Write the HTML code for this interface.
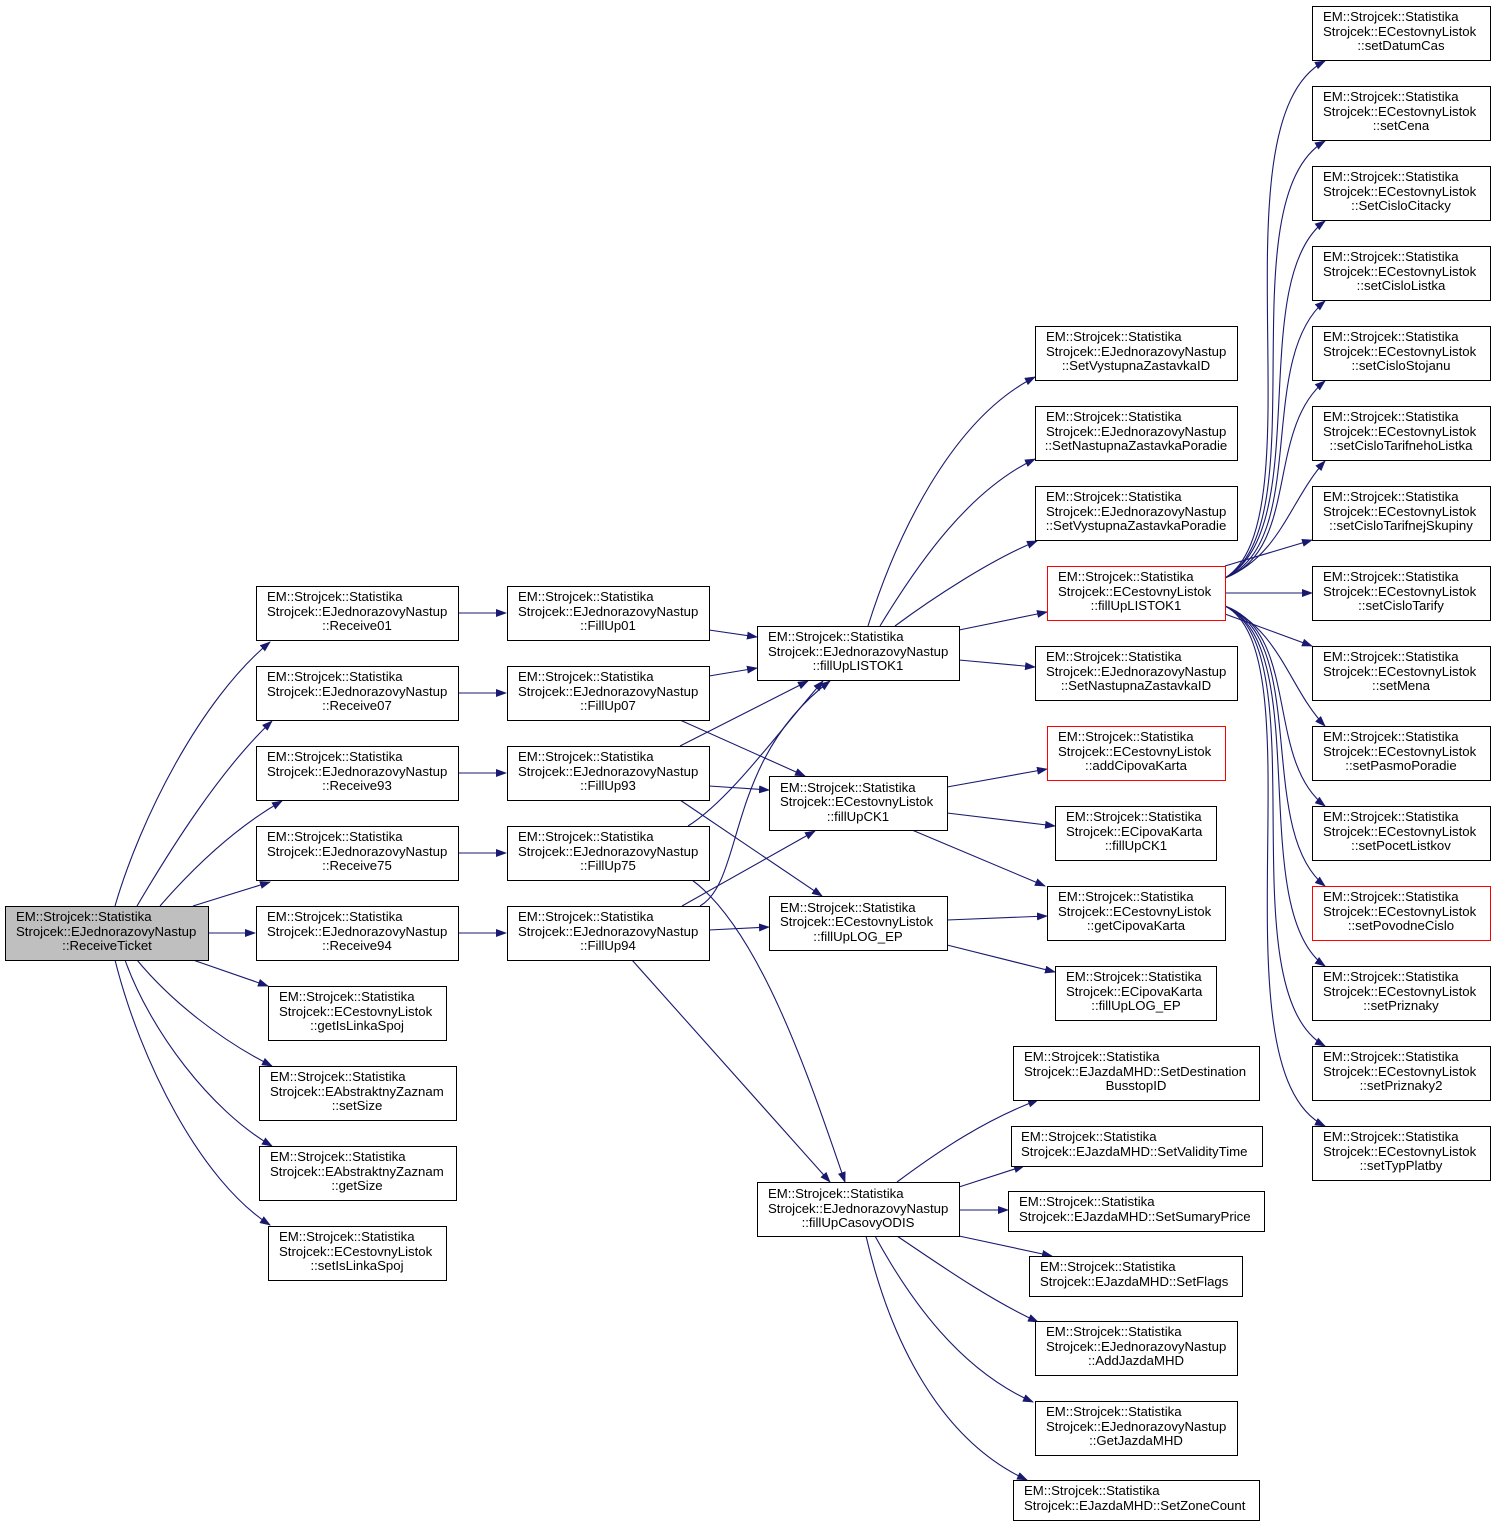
<!DOCTYPE html>
<html><head><meta charset="utf-8"><style>
html,body{margin:0;padding:0;background:#fff;}
svg text{font-family:"Liberation Sans",sans-serif;font-size:13.2px;fill:#000;}
.n{fill:#fff;stroke:#000;stroke-width:1;}
.r{fill:#fff;stroke:#ff0000;stroke-width:1;}
.g{fill:#bfbfbf;stroke:#000;stroke-width:1;}
.e{fill:none;stroke:#191970;stroke-width:1.1;}
</style></head><body>
<svg width="1496" height="1526" viewBox="0 0 1496 1526" xmlns="http://www.w3.org/2000/svg">
<defs><marker id="a" markerWidth="11" markerHeight="8" refX="10" refY="4" orient="auto" markerUnits="userSpaceOnUse"><path d="M0,0 L11,4 L0,8 z" fill="#191970"/></marker></defs>
<g class="edges">
<path class="e" marker-end="url(#a)" d="M115,906 C140,820 200,700 270,642"/>
<path class="e" marker-end="url(#a)" d="M137,906 C170,850 220,770 272,721"/>
<path class="e" marker-end="url(#a)" d="M160,906 C200,860 240,825 282,801"/>
<path class="e" marker-end="url(#a)" d="M193,906 L270,882"/>
<path class="e" marker-end="url(#a)" d="M208,933 L255,933"/>
<path class="e" marker-end="url(#a)" d="M193,960 L268,986"/>
<path class="e" marker-end="url(#a)" d="M137,960 C170,1000 220,1040 272,1066"/>
<path class="e" marker-end="url(#a)" d="M125,960 C150,1030 210,1110 272,1146"/>
<path class="e" marker-end="url(#a)" d="M115,960 C140,1060 200,1180 270,1225"/>
<path class="e" marker-end="url(#a)" d="M458,613 L506,613"/>
<path class="e" marker-end="url(#a)" d="M458,693 L506,693"/>
<path class="e" marker-end="url(#a)" d="M458,773 L506,773"/>
<path class="e" marker-end="url(#a)" d="M458,853 L506,853"/>
<path class="e" marker-end="url(#a)" d="M458,933 L506,933"/>
<path class="e" marker-end="url(#a)" d="M709,630 L757,637"/>
<path class="e" marker-end="url(#a)" d="M709,676 L757,668"/>
<path class="e" marker-end="url(#a)" d="M680,720 L805,776"/>
<path class="e" marker-end="url(#a)" d="M680,746 L808,681"/>
<path class="e" marker-end="url(#a)" d="M709,786 L769,790"/>
<path class="e" marker-end="url(#a)" d="M680,800 L822,896"/>
<path class="e" marker-end="url(#a)" d="M688,826 C730,800 780,730 823,681"/>
<path class="e" marker-end="url(#a)" d="M692,880 C760,930 810,1080 845,1182"/>
<path class="e" marker-end="url(#a)" d="M700,906 C745,880 725,760 830,681"/>
<path class="e" marker-end="url(#a)" d="M682,906 L815,831"/>
<path class="e" marker-end="url(#a)" d="M709,930 L769,927"/>
<path class="e" marker-end="url(#a)" d="M632,960 L830,1182"/>
<path class="e" marker-end="url(#a)" d="M868,626 C895,540 950,420 1035,377"/>
<path class="e" marker-end="url(#a)" d="M880,626 C920,560 970,490 1035,459"/>
<path class="e" marker-end="url(#a)" d="M895,626 C930,600 990,560 1037,541"/>
<path class="e" marker-end="url(#a)" d="M959,630 L1047,612"/>
<path class="e" marker-end="url(#a)" d="M959,660 L1035,667"/>
<path class="e" marker-end="url(#a)" d="M947,787 L1047,769"/>
<path class="e" marker-end="url(#a)" d="M947,813 L1055,826"/>
<path class="e" marker-end="url(#a)" d="M912,830 L1045,886"/>
<path class="e" marker-end="url(#a)" d="M947,920 L1047,916"/>
<path class="e" marker-end="url(#a)" d="M947,945 L1055,972"/>
<path class="e" marker-end="url(#a)" d="M897,1182 C940,1150 985,1120 1038,1100"/>
<path class="e" marker-end="url(#a)" d="M959,1187 L1024,1166"/>
<path class="e" marker-end="url(#a)" d="M959,1210 L1008,1210"/>
<path class="e" marker-end="url(#a)" d="M959,1236 L1052,1256"/>
<path class="e" marker-end="url(#a)" d="M897,1236 C940,1265 990,1300 1038,1322"/>
<path class="e" marker-end="url(#a)" d="M875,1236 C910,1300 960,1370 1033,1402"/>
<path class="e" marker-end="url(#a)" d="M866,1236 C890,1340 940,1440 1027,1480"/>
<path class="e" marker-end="url(#a)" d="M1225,578 C1320,520 1210,120 1325,61"/>
<path class="e" marker-end="url(#a)" d="M1225,578 C1320,525 1225,200 1325,141"/>
<path class="e" marker-end="url(#a)" d="M1225,578 C1315,530 1245,280 1325,221"/>
<path class="e" marker-end="url(#a)" d="M1225,578 C1310,540 1255,360 1325,301"/>
<path class="e" marker-end="url(#a)" d="M1225,578 C1300,550 1265,430 1325,381"/>
<path class="e" marker-end="url(#a)" d="M1225,578 C1280,556 1290,500 1325,461"/>
<path class="e" marker-end="url(#a)" d="M1225,566 L1312,540"/>
<path class="e" marker-end="url(#a)" d="M1225,593 L1312,593"/>
<path class="e" marker-end="url(#a)" d="M1225,614 L1312,646"/>
<path class="e" marker-end="url(#a)" d="M1225,606 C1280,630 1290,690 1325,726"/>
<path class="e" marker-end="url(#a)" d="M1225,606 C1300,633 1265,760 1325,806"/>
<path class="e" marker-end="url(#a)" d="M1225,606 C1310,640 1255,830 1325,886"/>
<path class="e" marker-end="url(#a)" d="M1225,606 C1315,645 1245,910 1325,966"/>
<path class="e" marker-end="url(#a)" d="M1225,606 C1320,650 1225,990 1325,1046"/>
<path class="e" marker-end="url(#a)" d="M1225,606 C1320,655 1210,1070 1325,1126"/>
</g>
<g class="nodes">
<rect class="g" x="5.5" y="906.5" width="203" height="54"/><text x="16" y="921">EM::Strojcek::Statistika</text><text x="16" y="936">Strojcek::EJednorazovyNastup</text><text x="107" y="950" text-anchor="middle">::ReceiveTicket</text>

<rect class="n" x="256.5" y="586.5" width="202" height="54"/><text x="267" y="601">EM::Strojcek::Statistika</text><text x="267" y="616">Strojcek::EJednorazovyNastup</text><text x="357" y="630" text-anchor="middle">::Receive01</text>
<rect class="n" x="256.5" y="666.5" width="202" height="54"/><text x="267" y="681">EM::Strojcek::Statistika</text><text x="267" y="696">Strojcek::EJednorazovyNastup</text><text x="357" y="710" text-anchor="middle">::Receive07</text>
<rect class="n" x="256.5" y="746.5" width="202" height="54"/><text x="267" y="761">EM::Strojcek::Statistika</text><text x="267" y="776">Strojcek::EJednorazovyNastup</text><text x="357" y="790" text-anchor="middle">::Receive93</text>
<rect class="n" x="256.5" y="826.5" width="202" height="54"/><text x="267" y="841">EM::Strojcek::Statistika</text><text x="267" y="856">Strojcek::EJednorazovyNastup</text><text x="357" y="870" text-anchor="middle">::Receive75</text>
<rect class="n" x="256.5" y="906.5" width="202" height="54"/><text x="267" y="921">EM::Strojcek::Statistika</text><text x="267" y="936">Strojcek::EJednorazovyNastup</text><text x="357" y="950" text-anchor="middle">::Receive94</text>
<rect class="n" x="268.5" y="986.5" width="178" height="54"/><text x="279" y="1001">EM::Strojcek::Statistika</text><text x="279" y="1016">Strojcek::ECestovnyListok</text><text x="357" y="1030" text-anchor="middle">::getIsLinkaSpoj</text>
<rect class="n" x="259.5" y="1066.5" width="197" height="54"/><text x="270" y="1081">EM::Strojcek::Statistika</text><text x="270" y="1096">Strojcek::EAbstraktnyZaznam</text><text x="357" y="1110" text-anchor="middle">::setSize</text>
<rect class="n" x="259.5" y="1146.5" width="197" height="54"/><text x="270" y="1161">EM::Strojcek::Statistika</text><text x="270" y="1176">Strojcek::EAbstraktnyZaznam</text><text x="357" y="1190" text-anchor="middle">::getSize</text>
<rect class="n" x="268.5" y="1226.5" width="178" height="54"/><text x="279" y="1241">EM::Strojcek::Statistika</text><text x="279" y="1256">Strojcek::ECestovnyListok</text><text x="357" y="1270" text-anchor="middle">::setIsLinkaSpoj</text>

<rect class="n" x="507.5" y="586.5" width="202" height="54"/><text x="518" y="601">EM::Strojcek::Statistika</text><text x="518" y="616">Strojcek::EJednorazovyNastup</text><text x="608" y="630" text-anchor="middle">::FillUp01</text>
<rect class="n" x="507.5" y="666.5" width="202" height="54"/><text x="518" y="681">EM::Strojcek::Statistika</text><text x="518" y="696">Strojcek::EJednorazovyNastup</text><text x="608" y="710" text-anchor="middle">::FillUp07</text>
<rect class="n" x="507.5" y="746.5" width="202" height="54"/><text x="518" y="761">EM::Strojcek::Statistika</text><text x="518" y="776">Strojcek::EJednorazovyNastup</text><text x="608" y="790" text-anchor="middle">::FillUp93</text>
<rect class="n" x="507.5" y="826.5" width="202" height="54"/><text x="518" y="841">EM::Strojcek::Statistika</text><text x="518" y="856">Strojcek::EJednorazovyNastup</text><text x="608" y="870" text-anchor="middle">::FillUp75</text>
<rect class="n" x="507.5" y="906.5" width="202" height="54"/><text x="518" y="921">EM::Strojcek::Statistika</text><text x="518" y="936">Strojcek::EJednorazovyNastup</text><text x="608" y="950" text-anchor="middle">::FillUp94</text>

<rect class="n" x="757.5" y="626.5" width="202" height="54"/><text x="768" y="641">EM::Strojcek::Statistika</text><text x="768" y="656">Strojcek::EJednorazovyNastup</text><text x="858" y="670" text-anchor="middle">::fillUpLISTOK1</text>
<rect class="n" x="769.5" y="776.5" width="178" height="54"/><text x="780" y="792">EM::Strojcek::Statistika</text><text x="780" y="806">Strojcek::ECestovnyListok</text><text x="858" y="821" text-anchor="middle">::fillUpCK1</text>
<rect class="n" x="769.5" y="896.5" width="178" height="54"/><text x="780" y="912">EM::Strojcek::Statistika</text><text x="780" y="926">Strojcek::ECestovnyListok</text><text x="858" y="941" text-anchor="middle">::fillUpLOG_EP</text>
<rect class="n" x="757.5" y="1182.5" width="202" height="54"/><text x="768" y="1198">EM::Strojcek::Statistika</text><text x="768" y="1213">Strojcek::EJednorazovyNastup</text><text x="858" y="1227" text-anchor="middle">::fillUpCasovyODIS</text>

<rect class="n" x="1035.5" y="326.5" width="202" height="54"/><text x="1046" y="341">EM::Strojcek::Statistika</text><text x="1046" y="356">Strojcek::EJednorazovyNastup</text><text x="1136" y="370" text-anchor="middle">::SetVystupnaZastavkaID</text>
<rect class="n" x="1035.5" y="406.5" width="202" height="54"/><text x="1046" y="421">EM::Strojcek::Statistika</text><text x="1046" y="436">Strojcek::EJednorazovyNastup</text><text x="1136" y="450" text-anchor="middle">::SetNastupnaZastavkaPoradie</text>
<rect class="n" x="1035.5" y="486.5" width="202" height="54"/><text x="1046" y="501">EM::Strojcek::Statistika</text><text x="1046" y="516">Strojcek::EJednorazovyNastup</text><text x="1136" y="530" text-anchor="middle">::SetVystupnaZastavkaPoradie</text>
<rect class="r" x="1047.5" y="566.5" width="178" height="54"/><text x="1058" y="581">EM::Strojcek::Statistika</text><text x="1058" y="596">Strojcek::ECestovnyListok</text><text x="1136" y="610" text-anchor="middle">::fillUpLISTOK1</text>
<rect class="n" x="1035.5" y="646.5" width="202" height="54"/><text x="1046" y="661">EM::Strojcek::Statistika</text><text x="1046" y="676">Strojcek::EJednorazovyNastup</text><text x="1136" y="690" text-anchor="middle">::SetNastupnaZastavkaID</text>
<rect class="r" x="1047.5" y="726.5" width="178" height="54"/><text x="1058" y="741">EM::Strojcek::Statistika</text><text x="1058" y="756">Strojcek::ECestovnyListok</text><text x="1136" y="770" text-anchor="middle">::addCipovaKarta</text>
<rect class="n" x="1055.5" y="806.5" width="161" height="54"/><text x="1066" y="821">EM::Strojcek::Statistika</text><text x="1066" y="836">Strojcek::ECipovaKarta</text><text x="1136" y="850" text-anchor="middle">::fillUpCK1</text>
<rect class="n" x="1047.5" y="886.5" width="178" height="54"/><text x="1058" y="901">EM::Strojcek::Statistika</text><text x="1058" y="916">Strojcek::ECestovnyListok</text><text x="1136" y="930" text-anchor="middle">::getCipovaKarta</text>
<rect class="n" x="1055.5" y="966.5" width="161" height="54"/><text x="1066" y="981">EM::Strojcek::Statistika</text><text x="1066" y="996">Strojcek::ECipovaKarta</text><text x="1136" y="1010" text-anchor="middle">::fillUpLOG_EP</text>
<rect class="n" x="1013.5" y="1046.5" width="246" height="54"/><text x="1024" y="1061">EM::Strojcek::Statistika</text><text x="1024" y="1076">Strojcek::EJazdaMHD::SetDestination</text><text x="1136" y="1090" text-anchor="middle">BusstopID</text>
<rect class="n" x="1011.5" y="1126.5" width="251" height="40"/><text x="1021" y="1141">EM::Strojcek::Statistika</text><text x="1021" y="1156">Strojcek::EJazdaMHD::SetValidityTime</text>
<rect class="n" x="1008.5" y="1191.5" width="256" height="40"/><text x="1019" y="1206">EM::Strojcek::Statistika</text><text x="1019" y="1221">Strojcek::EJazdaMHD::SetSumaryPrice</text>
<rect class="n" x="1029.5" y="1256.5" width="213" height="40"/><text x="1040" y="1271">EM::Strojcek::Statistika</text><text x="1040" y="1286">Strojcek::EJazdaMHD::SetFlags</text>
<rect class="n" x="1035.5" y="1321.5" width="202" height="54"/><text x="1046" y="1336">EM::Strojcek::Statistika</text><text x="1046" y="1351">Strojcek::EJednorazovyNastup</text><text x="1136" y="1365" text-anchor="middle">::AddJazdaMHD</text>
<rect class="n" x="1035.5" y="1401.5" width="202" height="54"/><text x="1046" y="1416">EM::Strojcek::Statistika</text><text x="1046" y="1431">Strojcek::EJednorazovyNastup</text><text x="1136" y="1445" text-anchor="middle">::GetJazdaMHD</text>
<rect class="n" x="1013.5" y="1480.5" width="246" height="40"/><text x="1024" y="1495">EM::Strojcek::Statistika</text><text x="1024" y="1510">Strojcek::EJazdaMHD::SetZoneCount</text>

<rect class="n" x="1312.5" y="6.5" width="178" height="54"/><text x="1323" y="21">EM::Strojcek::Statistika</text><text x="1323" y="36">Strojcek::ECestovnyListok</text><text x="1401" y="50" text-anchor="middle">::setDatumCas</text>
<rect class="n" x="1312.5" y="86.5" width="178" height="54"/><text x="1323" y="101">EM::Strojcek::Statistika</text><text x="1323" y="116">Strojcek::ECestovnyListok</text><text x="1401" y="130" text-anchor="middle">::setCena</text>
<rect class="n" x="1312.5" y="166.5" width="178" height="54"/><text x="1323" y="181">EM::Strojcek::Statistika</text><text x="1323" y="196">Strojcek::ECestovnyListok</text><text x="1401" y="210" text-anchor="middle">::SetCisloCitacky</text>
<rect class="n" x="1312.5" y="246.5" width="178" height="54"/><text x="1323" y="261">EM::Strojcek::Statistika</text><text x="1323" y="276">Strojcek::ECestovnyListok</text><text x="1401" y="290" text-anchor="middle">::setCisloListka</text>
<rect class="n" x="1312.5" y="326.5" width="178" height="54"/><text x="1323" y="341">EM::Strojcek::Statistika</text><text x="1323" y="356">Strojcek::ECestovnyListok</text><text x="1401" y="370" text-anchor="middle">::setCisloStojanu</text>
<rect class="n" x="1312.5" y="406.5" width="178" height="54"/><text x="1323" y="421">EM::Strojcek::Statistika</text><text x="1323" y="436">Strojcek::ECestovnyListok</text><text x="1401" y="450" text-anchor="middle">::setCisloTarifnehoListka</text>
<rect class="n" x="1312.5" y="486.5" width="178" height="54"/><text x="1323" y="501">EM::Strojcek::Statistika</text><text x="1323" y="516">Strojcek::ECestovnyListok</text><text x="1401" y="530" text-anchor="middle">::setCisloTarifnejSkupiny</text>
<rect class="n" x="1312.5" y="566.5" width="178" height="54"/><text x="1323" y="581">EM::Strojcek::Statistika</text><text x="1323" y="596">Strojcek::ECestovnyListok</text><text x="1401" y="610" text-anchor="middle">::setCisloTarify</text>
<rect class="n" x="1312.5" y="646.5" width="178" height="54"/><text x="1323" y="661">EM::Strojcek::Statistika</text><text x="1323" y="676">Strojcek::ECestovnyListok</text><text x="1401" y="690" text-anchor="middle">::setMena</text>
<rect class="n" x="1312.5" y="726.5" width="178" height="54"/><text x="1323" y="741">EM::Strojcek::Statistika</text><text x="1323" y="756">Strojcek::ECestovnyListok</text><text x="1401" y="770" text-anchor="middle">::setPasmoPoradie</text>
<rect class="n" x="1312.5" y="806.5" width="178" height="54"/><text x="1323" y="821">EM::Strojcek::Statistika</text><text x="1323" y="836">Strojcek::ECestovnyListok</text><text x="1401" y="850" text-anchor="middle">::setPocetListkov</text>
<rect class="r" x="1312.5" y="886.5" width="178" height="54"/><text x="1323" y="901">EM::Strojcek::Statistika</text><text x="1323" y="916">Strojcek::ECestovnyListok</text><text x="1401" y="930" text-anchor="middle">::setPovodneCislo</text>
<rect class="n" x="1312.5" y="966.5" width="178" height="54"/><text x="1323" y="981">EM::Strojcek::Statistika</text><text x="1323" y="996">Strojcek::ECestovnyListok</text><text x="1401" y="1010" text-anchor="middle">::setPriznaky</text>
<rect class="n" x="1312.5" y="1046.5" width="178" height="54"/><text x="1323" y="1061">EM::Strojcek::Statistika</text><text x="1323" y="1076">Strojcek::ECestovnyListok</text><text x="1401" y="1090" text-anchor="middle">::setPriznaky2</text>
<rect class="n" x="1312.5" y="1126.5" width="178" height="54"/><text x="1323" y="1141">EM::Strojcek::Statistika</text><text x="1323" y="1156">Strojcek::ECestovnyListok</text><text x="1401" y="1170" text-anchor="middle">::setTypPlatby</text>
</g>
</svg>
</body></html>
